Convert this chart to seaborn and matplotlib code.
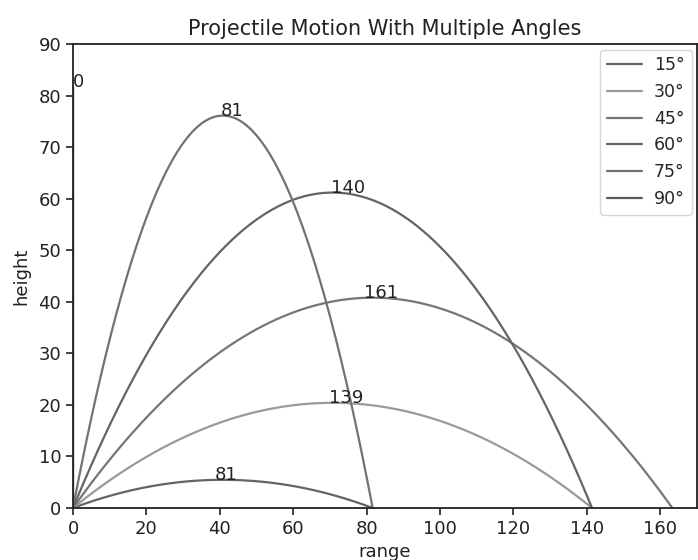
import numpy as np
import pandas as pd
import matplotlib
matplotlib.use("Agg")
import matplotlib.pyplot as plt
import seaborn as sns

# ---- data ----
angles = [15, 30, 45, 60, 75, 90]               # launch angles (deg)
angle_labels = ["15°", "30°", "45°", "60°", "75°", "90°"]
peak_labels = ["81", "139", "161", "140", "81", "0"]  # text printed at each apex
peak_label_x = [38.5, 69.7, 79.4, 70.3, 40.3, 0.0]    # where each apex text starts
v0 = 40.0                                          # launch speed
g = 9.8                                            # gravity
colors = ["#646464", "#9a9a9a", "#767676", "#646464", "#727272", "#5a5a5a"]

sns.set_theme(style="ticks")
plt.rcParams["font.family"] = ["DejaVu Sans"]

rows = []
apex_y = []
for a, lab in zip(angles, angle_labels):
    th = np.radians(a)
    tf = 2 * v0 * np.sin(th) / g
    t = np.linspace(0, tf, 300)
    x = v0 * np.cos(th) * t
    y = v0 * np.sin(th) * t - 0.5 * g * t ** 2
    rows.append(pd.DataFrame({"range": x, "height": y, "angle": lab, "t": t}))
    apex_y.append(y.max())
df = pd.concat(rows, ignore_index=True)

fig = plt.figure(figsize=(6.98, 5.6), dpi=100)
ax = fig.add_axes([0.1046, 0.0929, 0.894, 0.828])

sns.lineplot(data=df, x="range", y="height", hue="angle", palette=colors,
             sort=False, estimator=None, units="angle", linewidth=1.6, ax=ax)

for px, py, txt in zip(peak_label_x, apex_y, peak_labels):
    ax.text(px, py, txt, ha="left", va="baseline", fontsize=13, color="#222222")

ax.set_xlim(0, 170)
ax.set_ylim(0, 90)
ax.set_xticks(np.arange(0, 161, 20))
ax.set_yticks(np.arange(0, 91, 10))
ax.tick_params(labelsize=13, colors="#222222", length=5, width=1.2)
for s in ax.spines.values():
    s.set_color("#222222")
    s.set_linewidth(1.3)
ax.set_xlabel("range", fontsize=13, color="#222222")
ax.set_ylabel("height", fontsize=13, color="#222222", labelpad=6)
ax.set_title("Projectile Motion With Multiple Angles", fontsize=15, color="#222222",
             pad=7)

leg = ax.legend(loc="upper right", fontsize=12.5, title=None, handlelength=2.0,
                handletextpad=0.7, borderaxespad=0.3)
for h in leg.get_lines():
    h.set_linewidth(1.6)

fig.savefig("out.png", dpi=100)
